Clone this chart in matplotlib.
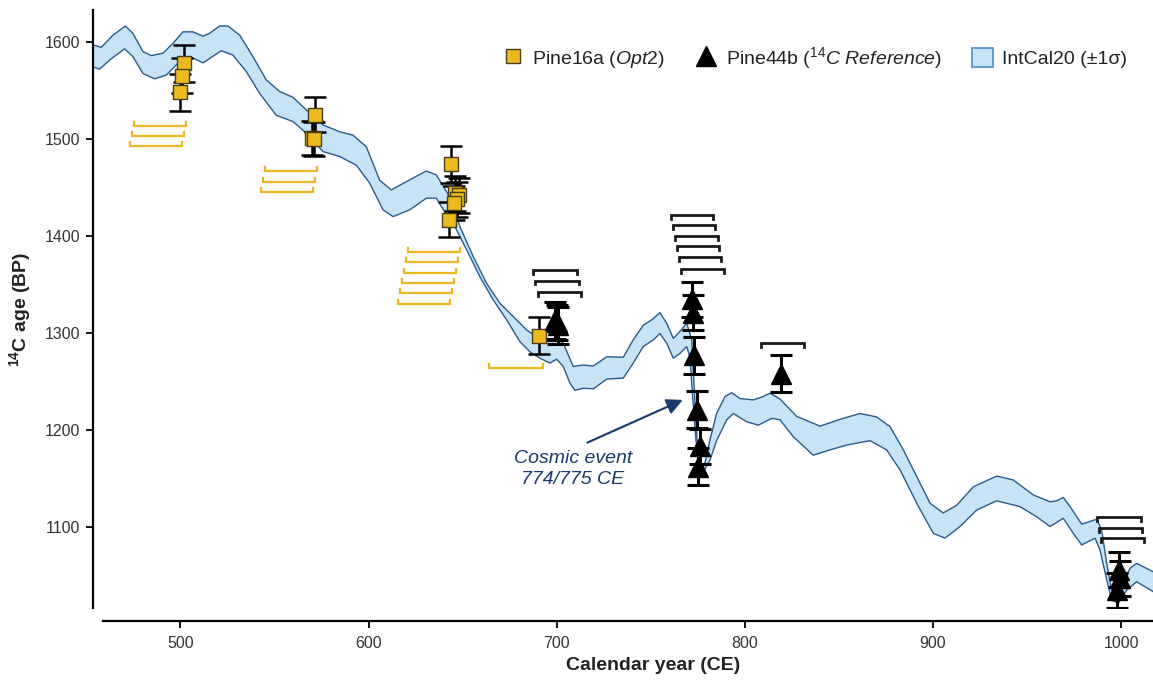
import numpy as np
import matplotlib
matplotlib.use("Agg")
import matplotlib.pyplot as plt
from matplotlib.patches import Patch
from matplotlib.lines import Line2D

plt.rcParams['font.family'] = ['Liberation Sans', 'DejaVu Sans']
plt.rcParams['mathtext.fontset'] = 'custom'
plt.rcParams['mathtext.rm'] = 'Liberation Sans'
plt.rcParams['mathtext.it'] = 'Liberation Sans:italic'
plt.rcParams['mathtext.bf'] = 'Liberation Sans:bold'

# IntCal20 +/-1 sigma envelope (calendar year CE, 14C age BP)
intcal_upper_year = [453.5, 457.9, 464.1, 470.7, 474.7, 480.1, 484.5, 490.7, 496.0, 501.3,
                     506.6, 512.0, 515.5, 520.8, 525.3, 531.5, 538.5, 545.6, 552.7, 559.8,
                     566.9, 575.8, 584.6, 591.7, 598.8, 605.9, 612.1, 620.0, 630.7, 636.0,
                     643.1, 648.6, 655.7, 662.8, 669.9, 676.9, 684.1, 689.4, 694.7, 700.0,
                     703.5, 708.8, 714.1, 719.5, 726.6, 735.4, 740.7, 746.0, 750.5, 754.9,
                     758.5, 762.0, 765.5, 769.1, 771.8, 773.5, 774.6, 777.1, 778.8, 781.5,
                     785.1, 789.5, 793.0, 797.4, 804.5, 809.8, 813.4, 818.7, 827.6, 840.0,
                     850.6, 861.2, 870.1, 877.2, 884.3, 891.4, 898.5, 905.5, 912.7, 921.5,
                     933.9, 942.7, 953.4, 962.3, 965.8, 969.3, 972.9, 979.1, 987.1, 989.7,
                     992.4, 995.0, 997.7, 1001.2, 1004.8, 1008.3, 1017.0]
intcal_upper_age = [1597, 1594.5, 1607, 1616.5, 1609, 1590, 1586, 1588.5, 1598.5, 1610.5,
                    1610.5, 1606, 1609, 1616.5, 1616.5, 1607, 1585, 1561, 1549, 1543,
                    1530, 1514.5, 1507.5, 1504, 1492, 1457.5, 1447.5, 1456, 1467, 1463,
                    1440.5, 1409.5, 1378.5, 1351, 1330.5, 1317, 1303, 1296, 1291, 1294.5,
                    1289.5, 1265.5, 1267, 1266, 1275.5, 1275, 1293, 1308, 1313.5, 1321,
                    1310, 1294.5, 1301.5, 1310, 1293, 1228, 1190, 1162, 1166, 1190,
                    1217.5, 1234.5, 1238.5, 1232.5, 1231, 1234.5, 1238, 1232, 1214, 1204,
                    1211, 1217, 1213.5, 1203.5, 1179.5, 1152, 1124.5, 1114.5, 1122.5, 1141.5,
                    1152.5, 1148.5, 1133, 1126, 1127, 1130.5, 1121, 1103, 1108, 1097,
                    1062.5, 1035, 1028, 1042, 1057.5, 1062.5, 1054]
intcal_lower_year = [453.5, 457.0, 462.4, 470.3, 474.7, 480.1, 486.3, 492.5, 497.8, 504.9,
                     512.0, 521.7, 527.9, 535.0, 542.1, 550.9, 559.8, 566.9, 575.8, 584.6,
                     593.5, 600.6, 607.7, 613.0, 621.9, 630.7, 636.0, 643.1, 645.0, 652.2,
                     659.2, 666.3, 673.4, 680.5, 685.8, 691.1, 696.4, 700.0, 703.5, 707.1,
                     709.7, 714.1, 719.5, 726.6, 735.4, 740.7, 746.0, 751.4, 754.9, 758.5,
                     762.0, 765.5, 769.1, 770.8, 772.4, 774.0, 775.6, 777.8, 781.5, 785.1,
                     790.4, 793.9, 801.0, 807.2, 814.3, 818.7, 825.8, 836.4, 845.3, 854.2,
                     866.6, 875.4, 882.5, 891.4, 900.2, 906.4, 914.4, 923.3, 933.9, 946.3,
                     955.2, 962.3, 969.3, 974.6, 979.1, 986.2, 988.8, 992.4, 995.0, 998.6,
                     1003.0, 1008.3, 1017.0]
intcal_lower_age = [1574.5, 1572, 1581.5, 1593, 1585, 1567.5, 1562, 1566, 1576.5, 1585,
                    1578.5, 1591, 1586.5, 1569.5, 1547, 1524.5, 1518, 1506, 1487, 1482,
                    1473, 1454.5, 1427, 1420, 1427, 1439, 1439, 1416.5, 1413, 1385.5,
                    1358, 1334, 1313.5, 1291, 1280.5, 1274, 1269, 1273, 1265.5, 1248,
                    1241, 1243, 1242.5, 1252.5, 1253.5, 1269, 1286, 1293, 1299.5, 1289.5,
                    1274, 1279, 1286, 1275.5, 1231, 1190, 1164, 1156.5, 1169, 1189.5,
                    1210.5, 1217, 1208.5, 1205, 1212, 1210.5, 1193, 1174, 1179.5, 1184.5,
                    1189, 1179.5, 1159, 1124.5, 1093.5, 1088.5, 1100.5, 1117.5, 1127, 1121,
                    1110.5, 1100.5, 1109, 1093.5, 1081.5, 1088.5, 1076.5, 1045.5, 1024.5, 1021.5,
                    1035, 1043.5, 1033.5]

# Pine16a (Opt2) measurements
pine16a_year = [502.0, 500.8, 499.7, 571.7, 569.9, 570.8,
                643.6, 646.2, 648.1, 647.2, 645.2, 642.7, 690.6]
pine16a_age = [1578, 1565, 1548, 1525, 1501, 1500,
               1474, 1444, 1442, 1438, 1434, 1417, 1297]
pine16a_err = [19, 18, 19, 18, 18, 18,
               19, 18, 18, 18, 18, 18, 19]

# Pine44b (14C reference) measurements
pine44b_year = [699.2, 700.0, 700.8, 771.8, 772.3, 773.2, 774.4, 776.2, 775.3,
                819.2, 999.1, 999.5, 997.7]
pine44b_age = [1313, 1311, 1308, 1335, 1321, 1277, 1221, 1183, 1162,
               1258, 1056, 1047, 1035]
pine44b_err = [19, 18, 19, 18, 18, 19, 19, 18, 19,
               19, 18, 18, 18]

# Calendar ranges of the dated ring sections
pine16a_range_start = [475.1, 474.1, 473.0, 544.8, 543.7, 542.6,
                       620.8, 619.7, 618.6, 617.6, 616.5, 615.5, 664.2]
pine16a_range_end = [503.1, 502.1, 501.0, 572.7, 571.7, 570.6,
                     648.6, 647.5, 646.5, 645.4, 644.4, 643.3, 692.6]
pine16a_range_level = [1513.7, 1503.4, 1492.8, 1467.0, 1455.7, 1445.7,
                       1383.8, 1373.5, 1362.2, 1351.9, 1341.0, 1330.0, 1263.6]

pine44b_range_start = [687.6, 688.7, 689.9, 760.6, 761.7, 762.8, 763.8, 764.9, 766.0,
                       808.5, 987.1, 988.2, 989.3]
pine44b_range_end = [710.7, 711.8, 713.0, 783.3, 784.4, 785.5, 786.5, 787.6, 788.7,
                     831.5, 1010.5, 1011.4, 1012.3]
pine44b_range_level = [1364.9, 1354.1, 1342.6, 1421.6, 1411.3, 1400.3, 1389.7, 1378.0, 1365.7,
                       1289.4, 1110.6, 1099.3, 1088.3]

x_ticks = [500, 600, 700, 800, 900, 1000]
y_ticks = [1100, 1200, 1300, 1400, 1500, 1600]

GOLD = '#EBBA1E'
GOLD_EDGE = '#4a3d1a'
BAND_FACE = '#C6E4F5'
BAND_EDGE = '#2B5A8C'
NAVY = '#17396B'

W, H = 1153, 683
fig = plt.figure(figsize=(W / 100, H / 100), dpi=100)
ax = fig.add_axes([93 / W, 1 - 608 / H, 1 - 93 / W, (608 - 10) / H])

# IntCal20 band
uy = np.asarray(intcal_upper_year); ua = np.asarray(intcal_upper_age)
ly = np.asarray(intcal_lower_year); la = np.asarray(intcal_lower_age)
ax.fill(np.r_[uy, ly[::-1]], np.r_[ua, la[::-1]], facecolor=BAND_FACE,
        edgecolor='none', zorder=1)
ax.plot(uy, ua, color=BAND_EDGE, lw=1.0, zorder=2, solid_joinstyle='round')
ax.plot(ly, la, color=BAND_EDGE, lw=1.0, zorder=2, solid_joinstyle='round')

# calendar-range brackets
TICK = 4.0
for s, e, lv in zip(pine16a_range_start, pine16a_range_end, pine16a_range_level):
    ax.plot([s, s, e, e], [lv + TICK, lv, lv, lv + TICK], color='#EDB520',
            lw=1.6, solid_joinstyle='miter', zorder=2)
for s, e, lv in zip(pine44b_range_start, pine44b_range_end, pine44b_range_level):
    ax.plot([s, s, e, e], [lv - TICK, lv, lv, lv - TICK], color='#1a1a1a',
            lw=2.0, solid_joinstyle='miter', zorder=2)

# measurements with 1-sigma error bars
ax.errorbar(pine16a_year, pine16a_age, yerr=pine16a_err, fmt='none', ecolor='black',
            elinewidth=1.8, capsize=8, capthick=1.8, zorder=3)
ax.plot(pine16a_year, pine16a_age, ls='none', marker='s', ms=9.5, mfc=GOLD,
        mec=GOLD_EDGE, mew=1.0, zorder=4)
ax.errorbar(pine44b_year, pine44b_age, yerr=pine44b_err, fmt='none', ecolor='black',
            elinewidth=2.2, capsize=8, capthick=2.2, zorder=3)
ax.plot(pine44b_year, pine44b_age, ls='none', marker='^', ms=14, color='black', zorder=4)

# annotation
ax.text(708.5, 1160, 'Cosmic event\n774/775 CE', color=NAVY, fontsize=14,
        style='italic', ha='center', va='center', linespacing=1.3, zorder=5)
ax.annotate('', xy=(767.0, 1231), xytext=(716.3, 1187),
            arrowprops=dict(arrowstyle='-|>', color=NAVY, lw=1.5, mutation_scale=24,
                            shrinkA=0, shrinkB=0), zorder=5)

# axes styling
ax.set_xlim(453.5, 1017)
ax.set_ylim(1016.5, 1633)
ax.set_xticks(x_ticks)
ax.set_yticks(y_ticks)
for side in ('top', 'right'):
    ax.spines[side].set_visible(False)
ax.spines['left'].set_linewidth(1.6)
ax.spines['bottom'].set_linewidth(1.6)
ax.spines['bottom'].set_position(('outward', 13 * 0.72))
ax.spines['bottom'].set_bounds(458.8, 1017)
ax.tick_params(axis='both', direction='out', length=5, width=1.3, labelsize=11.5,
               colors='black', labelcolor='#333333')
ax.tick_params(axis='x', pad=6)
ax.tick_params(axis='y', pad=4)

ax.set_xlabel('Calendar year (CE)', fontsize=14, fontweight='bold', color='#222222')
ax.set_ylabel(r'$^{\mathbf{14}}$C age (BP)', fontsize=14, fontweight='bold', color='#222222')
ax.xaxis.set_label_coords((653 - 93) / 1060, (608 - 657) / 598)
ax.yaxis.set_label_coords((33 - 93) / 1060, 0.5)

# legend
handles = [
    Line2D([], [], ls='none', marker='s', ms=10, mfc=GOLD, mec=GOLD_EDGE, mew=1.0),
    Line2D([], [], ls='none', marker='^', ms=15, color='black'),
    Patch(facecolor=BAND_FACE, edgecolor='#4A8BC9', lw=1.2),
]
labels = [r'Pine16a ($\mathit{Opt2}$)',
          r'Pine44b ($\mathit{^{14}C\ Reference}$)',
          'IntCal20 (±1σ)']
leg = ax.legend(handles, labels, ncol=3, loc='upper right', frameon=False,
                bbox_to_anchor=(1127 / W, 1 - 45 / H), bbox_transform=fig.transFigure,
                fontsize=14, handlelength=1.1, handleheight=1.1, handletextpad=0.45,
                columnspacing=1.55, borderpad=0, borderaxespad=0)
for t in leg.get_texts():
    t.set_color('#222222')

fig.savefig('out.png', dpi=100)
